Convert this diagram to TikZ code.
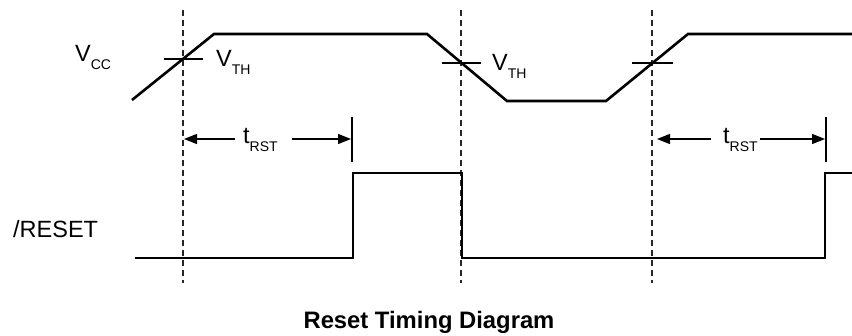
\documentclass[tikz,border=0pt]{standalone}
\usepackage{fontspec}
\setmainfont{Liberation Sans}
\usetikzlibrary{arrows.meta}
\newcommand\lowsub[2]{#1\raisebox{-8.5pt}{\fontsize{14}{14}\selectfont #2}}
\begin{document}
\begin{tikzpicture}[x=1pt,y=-1pt,
  wave/.style={line width=2.6pt, line join=miter, line cap=butt},
  guide/.style={line width=1.2pt, dash pattern=on 6pt off 4pt, black!85},
  thtick/.style={line width=1.1pt},
  dimline/.style={line width=1.1pt, -{Triangle[length=13pt,width=10pt]}},
  marker/.style={line width=1.1pt},
  lbl/.style={font=\fontsize{23.5}{24}\selectfont, inner sep=0pt, anchor=base west},
  ttl/.style={font=\bfseries\fontsize{23.8}{24}\selectfont, inner sep=0pt, anchor=base}
]
\useasboundingbox (0,0) rectangle (852,335);

% guides
\coordinate (g1t) at (183,10);  \coordinate (g1b) at (183,283);
\coordinate (g2t) at (461,10);  \coordinate (g2b) at (461,283);
\coordinate (g3t) at (652,10);  \coordinate (g3b) at (652,283);
\draw[guide] (g1t) -- (g1b);
\draw[guide] (g2t) -- (g2b);
\draw[guide] (g3t) -- (g3b);

% Vcc waveform
\draw[wave] (132,100) -- (214,34) -- (427,34) -- (507,101) -- (606,101) -- (688,34) -- (852,34);

% threshold ticks
\coordinate (t1a) at (164,59); \coordinate (t1b) at (203,59);
\coordinate (t2a) at (442,63); \coordinate (t2b) at (481,63);
\coordinate (t3a) at (632,63); \coordinate (t3b) at (673,63);
\draw[thtick] (t1a) -- (t1b);
\draw[thtick] (t2a) -- (t2b);
\draw[thtick] (t3a) -- (t3b);

% /RESET waveform
\draw[wave] (135,258) -- (353,258) -- (353,173) -- (462,173) -- (462,258) -- (825,258) -- (825,173) -- (852,173);

% labels
\node[lbl] (vcc) at (75,61) {\lowsub{V}{CC}};
\node[lbl] (vth1) at (216,66) {\lowsub{V}{TH}};
\node[lbl] (vth2) at (492,70) {\lowsub{V}{TH}};
\node[lbl] (rst) at (13,237) {/RESET};

% tRST dimension 1
\coordinate (m1t) at (352,117); \coordinate (m1b) at (352,162);
\draw[marker] (m1t) -- (m1b);
\node[lbl] (tr1) at (243,143) {\lowsub{t}{RST}};
\coordinate (a1l) at (184,139); \coordinate (a1r) at (351,139);
\coordinate (a1m) at (235,139); \coordinate (a1n) at (292,139);
\draw[dimline] (a1m) -- (a1l);
\draw[dimline] (a1n) -- (a1r);

% tRST dimension 2
\coordinate (m2t) at (826,117); \coordinate (m2b) at (826,162);
\draw[marker] (m2t) -- (m2b);
\node[lbl] (tr2) at (723,143) {\lowsub{t}{RST}};
\coordinate (a2l) at (657,139); \coordinate (a2r) at (825,139);
\coordinate (a2m) at (711,139); \coordinate (a2n) at (760,139);
\draw[dimline] (a2m) -- (a2l);
\draw[dimline] (a2n) -- (a2r);

% title
\node[ttl] (title) at (429,328) {Reset Timing Diagram};
\end{tikzpicture}
\end{document}
